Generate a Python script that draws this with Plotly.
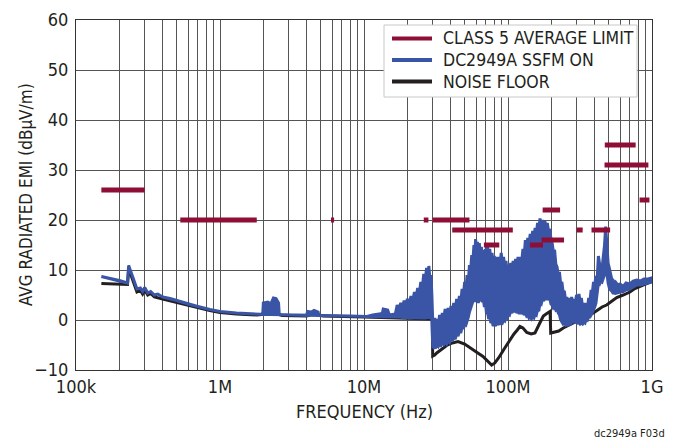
import plotly.graph_objects as go

# ---------------- data ----------------
# CISPR 25 Class 5 average limit bands (MHz) and levels (dBuV/m)
limit_start_mhz = [0.15, 0.53, 5.9, 26, 30, 41, 68, 142, 171, 174, 300, 380, 468, 470, 820]
limit_stop_mhz = [0.30, 1.8, 6.2, 28, 54, 108, 87, 175, 245, 230, 330, 512, 944, 770, 960]
limit_level = [26, 20, 20, 20, 20, 18, 15, 15, 16, 22, 18, 18, 31, 35, 24]

# DC2949A SSFM ON: frequency (MHz), upper and lower edge of the trace (dBuV/m)
ssfm_mhz = [
    0.15, 0.20, 0.228, 0.232, 0.25, 0.265, 0.28, 0.29, 0.30, 0.315, 0.33, 0.35, 0.37,
    0.40, 0.45, 0.50, 0.60, 0.70, 0.85, 1.0, 1.3, 1.7, 1.98,
    2.0, 2.15, 2.25, 2.35, 2.45, 2.55, 2.58, 3.0, 4.0, 4.05,
    4.3, 4.5, 4.8, 4.85, 6.0, 8.0, 10.5, 11.5, 13.4, 13.6,
    14.6, 15.0, 16.5,
    17.0, 17.5, 18.0, 18.5, 19.0, 19.5, 20.0, 20.6, 21.2, 21.8, 22.4, 23.0, 23.6,
    24.2, 24.8, 25.4, 26.0, 26.6, 27.2, 27.8, 28.2, 28.7, 29.2, 29.6, 29.9,
    30.0, 30.5, 31.0, 31.6, 32.2, 32.8, 33.5, 34.2, 35.0, 35.8, 36.6, 37.5,
    38.4, 39.3, 40.2, 41.1, 42.0, 43.0, 44.0, 45.0, 46.0, 47.0, 48.0, 49.0,
    50.0, 51.0, 52.0, 53.0, 54.0, 55.0,
    56.0, 57.0, 58.0, 58.8, 59.6, 60.4, 61.3, 62.2, 63.2, 64.2, 65.3, 66.4,
    67.5, 68.6, 69.8, 71.0, 72.2, 73.4, 74.7, 76.0, 77.4, 78.8, 80.2, 81.7,
    83.2, 84.8, 86.4, 88.0, 89.7, 91.4, 93.2, 95.0, 96.8, 98.6, 100.5,
    102.5, 104.5, 106.6, 108.7, 110.8, 113.0, 115.2, 117.5, 119.8, 122.2, 124.6, 127.0,
    129.5, 132.0, 134.6, 137.2, 139.9, 142.7, 145.5, 148.4, 151.3, 154.3, 157.3, 160.4,
    163.6, 166.8, 170.1, 173.4, 176.8, 180.3, 183.8, 187.4, 191.1, 194.9, 198.7,
    202.6, 206.6, 210.6, 214.8, 219.0, 223.3, 227.7, 232.2, 236.7, 241.4, 246.1, 251.0,
    255.9, 260.9, 266.1, 271.3, 276.6, 282.1, 287.6, 293.3, 299.0, 304.9, 310.9, 317.0,
    323.2, 329.6, 336.0, 342.7, 349.4, 356.3, 363.3, 370.4, 377.7, 385.1, 392.6,
    400.3, 408.2, 416.2, 424.4, 432.7, 441.2, 449.8, 458.6, 467.6, 476.8, 486.2, 495.7,
    505.4, 515.3, 525.4, 535.7, 546.2, 556.9, 578.0, 600.0, 631.0, 660.0, 700.0, 740.0,
    783.0, 830.0, 880.0, 940.0, 995.0]
ssfm_hi = [
    8.7, 7.9, 7.4, 10.9, 8.3, 6.2, 6.4, 5.7, 6.5, 5.4, 5.7, 5.0, 5.2,
    4.6, 4.3, 3.9, 3.2, 2.7, 2.1, 1.7, 1.4, 1.2, 1.1,
    3.4, 3.6, 3.2, 4.4, 4.3, 3.4, 1.1, 1.0, 0.9, 1.7,
    1.6, 1.9, 1.6, 0.9, 0.9, 0.8, 0.7, 1.0, 1.3, 2.2,
    2.0, 1.0, 1.2,
    3.0, 2.2, 3.4, 2.6, 3.9, 3.0, 4.2, 3.3, 4.8, 3.8, 5.6, 4.6, 6.4,
    5.3, 7.6, 6.4, 9.2, 7.8, 10.4, 8.6, 10.8, 8.2, 9.0, 5.0, 2.0,
    0.0, -1.2, 0.4, -0.8, 0.2, -1.0, 1.0, -0.2, 1.4, 0.2, 2.2, 0.8,
    2.4, 1.0, 2.8, 1.4, 3.4, 2.0, 4.2, 2.8, 4.8, 3.6, 6.2, 4.8,
    7.6, 6.0, 9.0, 7.6, 11.0, 9.8,
    13.0, 11.6, 15.0, 13.2, 16.2, 14.0, 15.6, 13.4, 15.4, 13.0, 14.6, 12.6,
    14.0, 12.4, 14.2, 12.4, 14.8, 12.2, 14.2, 11.8, 13.4, 11.4, 12.8, 11.2,
    12.6, 10.8, 12.6, 11.0, 13.4, 11.2, 12.6, 10.4, 11.8, 9.6, 11.0,
    10.0, 11.4, 10.2, 11.8, 10.6, 12.2, 11.0, 12.6, 11.4, 12.6, 11.8, 14.2,
    12.8, 16.0, 14.6, 16.4, 15.2, 17.2, 16.0, 17.8, 16.4, 18.4, 17.0, 19.4,
    18.0, 20.3, 18.6, 20.0, 18.8, 19.8, 18.4, 19.4, 17.8, 18.2, 16.2,
    15.4, 13.6, 14.0, 11.2, 10.6, 9.0, 9.6, 7.2, 7.6, 5.6, 5.8, 4.0,
    4.6, 3.2, 4.4, 3.0, 4.6, 3.4, 4.2, 3.2, 5.0, 3.8, 5.2, 3.6,
    4.4, 2.6, 3.4, 1.8, 3.4, 2.2, 4.4, 3.6, 6.0, 5.4, 7.6,
    7.0, 8.8, 8.2, 12.8, 11.2, 10.8, 10.2, 12.6, 14.8, 18.7, 15.2, 11.4,
    10.4, 9.0, 8.2, 8.0, 7.4, 7.6, 7.0, 7.2, 6.7, 7.4, 7.2, 7.8,
    8.0, 7.8, 8.2, 8.2, 8.4]
ssfm_lo = [
    8.7, 7.9, 7.4, 10.9, 8.3, 6.2, 6.4, 5.7, 6.5, 5.4, 5.7, 5.0, 5.2,
    4.6, 4.3, 3.9, 3.2, 2.7, 2.1, 1.7, 1.4, 1.2, 1.1,
    1.1, 1.1, 1.1, 1.1, 1.1, 1.1, 1.1, 1.0, 0.9, 0.9,
    0.9, 0.9, 0.9, 0.9, 0.9, 0.8, 0.7, 0.7, 0.7, 0.7,
    0.7, 0.7, 0.6,
    0.6, 0.6, 0.6, 0.5, 0.5, 0.5, 0.5, 0.5, 0.5, 0.4, 0.4, 0.4, 0.4,
    0.4, 0.4, 0.4, 0.4, 0.4, 0.4, 0.5, 0.5, 0.5, 0.4, 0.3, 0.2,
    -5.3, -5.5, -5.2, -5.4, -5.0, -5.3, -4.8, -5.1, -4.6, -4.9, -4.4, -4.8,
    -4.2, -4.5, -3.8, -4.2, -3.4, -3.8, -2.8, -3.2, -2.2, -2.6, -1.4, -1.8,
    -0.8, -1.0, 0.0, 0.6, 1.6, 2.4,
    3.0, 3.8, 4.4, 3.6, 4.8, 4.0, 4.6, 3.4, 4.4, 3.8, 4.4, 3.6,
    4.0, 2.6, 3.2, 1.2, 1.6, 0.2, 0.6, -0.6, -0.2, -1.2, -0.8, -1.2,
    -0.6, -1.0, -0.4, -0.9, -0.4, -0.6, 0.0, -0.2, 0.6, 0.4, 1.2,
    1.0, 1.8, 1.4, 2.2, 1.6, 2.0, 1.4, 1.8, 1.2, 1.8, 1.2, 1.6,
    1.0, 1.4, 0.8, 1.0, 0.4, 0.6, 0.2, 0.6, 0.4, 1.2, 1.0, 2.0,
    1.8, 3.4, 3.2, 4.2, 3.8, 4.6, 4.0, 4.8, 4.0, 4.4, 3.2,
    3.0, 2.4, 2.6, 2.0, 2.2, 1.4, 1.0, 0.0, -0.4, -0.8, -0.6, -1.0,
    -0.8, -1.2, -0.6, -1.0, -0.2, -0.6, 0.0, -0.4, -0.2, -0.8, -0.4, -0.8,
    -0.6, -0.8, -0.4, -0.6, 0.2, 0.0, 0.6, 0.6, 1.0, 1.4, 2.0,
    2.6, 3.4, 4.6, 7.4, 7.2, 7.8, 7.6, 8.2, 9.0, 10.6, 9.4, 7.4,
    6.4, 6.0, 5.8, 5.4, 5.4, 5.3, 5.4, 5.6, 5.7, 6.0, 6.2, 6.6,
    7.0, 7.0, 7.3, 7.4, 7.6]

# Noise floor: frequency (MHz), level (dBuV/m)
noise_mhz = [0.15, 0.228, 0.232, 0.25, 0.265, 0.28, 0.29, 0.30, 0.315, 0.33, 0.35, 0.40, 0.50,
             0.60, 0.70, 0.85, 1.0, 1.3, 1.8, 2.1, 2.5, 2.7, 4.0, 4.3, 4.8, 5.2, 10.0, 15.0,
             20.0, 29.8, 30.0, 31.0, 32.0, 34.0, 37.5, 41.0, 45.0, 50.0, 55.0, 61.0, 67.0,
             72.0, 77.0, 81.0, 86.0, 94.0, 103.0, 110.0, 116.0, 121.0, 127.0, 135.0, 145.0,
             154.0, 165.0, 176.0, 186.0, 196.0, 198.0, 210.0, 225.0, 242.0, 270.0, 300.0,
             330.0, 360.0, 391.0, 420.0, 450.0, 484.0, 520.0, 569.0, 630.0, 703.0, 760.0,
             826.0, 900.0, 995.0]
noise_db = [7.3, 7.1, 10.3, 7.8, 5.6, 5.9, 5.2, 6.0, 5.0, 5.3, 4.6, 4.2, 3.5,
            2.9, 2.4, 1.9, 1.5, 1.2, 1.0, 1.2, 1.2, 0.9, 0.8, 1.1, 1.0, 0.8, 0.6, 0.5,
            0.4, 0.2, -7.2, -7.0, -6.6, -6.0, -5.1, -4.6, -4.3, -4.8, -5.7, -6.5, -7.3,
            -8.2, -9.0, -8.6, -7.6, -5.8, -4.0, -2.8, -2.0, -1.3, -1.6, -2.5, -2.8,
            -2.6, -0.8, 0.8, 1.3, 1.7, -2.6, -2.4, -2.2, -1.6, -0.9, -0.2,
            0.4, 0.8, 1.4, 2.0, 2.6, 3.0, 3.6, 4.5, 5.0, 5.6, 6.3,
            6.7, 7.2, 7.7]

series_names = ["CLASS 5 AVERAGE LIMIT", "DC2949A SSFM ON", "NOISE FLOOR"]
y_ticks = [-10, 0, 10, 20, 30, 40, 50, 60]
y_tick_labels = ["\u221210", "0", "10", "20", "30", "40", "50", "60"]
x_decades = [1e5, 1e6, 1e7, 1e8, 1e9]
x_decade_labels = ["100k", "1M", "10M", "100M", "1G"]
x_title = "FREQUENCY (Hz)"
y_title = "AVG RADIATED EMI (dB\u03bcV/m)"
footer = "dc2949a F03d"

# ---------------- styling ----------------
RED = "#8E0E35"
BLUE = "#3A55A6"
BLACK = "#231F20"
GRID = "#555555"
FONT = "DejaVu Sans Condensed, Liberation Sans Narrow, Roboto, sans-serif"

fig = go.Figure()

# noise floor
fig.add_trace(go.Scatter(
    x=[m * 1e6 for m in noise_mhz], y=noise_db, mode="lines", name=series_names[2],
    line=dict(color=BLACK, width=3), showlegend=False, hoverinfo="skip"))

# SSFM band (polygon between upper and lower edge)
xs = [m * 1e6 for m in ssfm_mhz]
fig.add_trace(go.Scatter(
    x=xs + xs[::-1], y=ssfm_hi + ssfm_lo[::-1], mode="lines", fill="toself",
    name=series_names[1], fillcolor=BLUE, line=dict(color=BLUE, width=3),
    showlegend=False, hoverinfo="skip"))

# limit segments
lx, ly = [], []
for a, b, lv in zip(limit_start_mhz, limit_stop_mhz, limit_level):
    lx += [a * 1e6, b * 1e6, None]
    ly += [lv, lv, None]
fig.add_trace(go.Scatter(x=lx, y=ly, mode="lines", name=series_names[0],
                         line=dict(color=RED, width=5), showlegend=False, hoverinfo="skip"))

# x grid at every 1..9 x decade, labels only on decades
grid_vals, grid_text = [], []
for d, lab in zip(x_decades[:-1], x_decade_labels[:-1]):
    for k in range(1, 10):
        grid_vals.append(d * k)
        grid_text.append(lab if k == 1 else "")
grid_vals.append(x_decades[-1])
grid_text.append(x_decade_labels[-1])

# plot-area pixel geometry -> paper coords helper (legend box, titles)
L, R, T, B = 76, 26, 20, 73
PW, PH = 678 - L - R, 443 - T - B


def px(xp):
    return (xp - L) / PW


def py(yp):
    return (443 - B - yp) / PH


shapes = [dict(type="rect", xref="paper", yref="paper", x0=px(384), x1=px(637),
               y0=py(97), y1=py(25), fillcolor="white", line=dict(color="#C8C8C8", width=1),
               layer="above")]
annotations = []
row_y = [38.5, 60, 81.5]
for name, col, ry in zip(series_names, [RED, BLUE, BLACK], row_y):
    shapes.append(dict(type="line", xref="paper", yref="paper", x0=px(392), x1=px(432),
                       y0=py(ry), y1=py(ry), line=dict(color=col, width=4), layer="above"))
    annotations.append(dict(text=name, xref="paper", yref="paper", x=px(441), y=py(ry),
                            xanchor="left", yanchor="middle", showarrow=False,
                            font=dict(family=FONT, size=17.5, color=BLACK)))
annotations.append(dict(text=x_title, xref="paper", yref="paper", x=px(364), y=py(411),
                        xanchor="center", yanchor="middle", showarrow=False,
                        font=dict(family=FONT, size=18, color=BLACK)))
annotations.append(dict(text=y_title, xref="paper", yref="paper", x=px(26), y=py(195),
                        xanchor="center", yanchor="middle", showarrow=False, textangle=-90,
                        font=dict(family=FONT, size=17, color=BLACK)))
annotations.append(dict(text=footer, xref="paper", yref="paper", x=px(667), y=py(433),
                        xanchor="right", yanchor="middle", showarrow=False,
                        font=dict(family=FONT, size=11, color=BLACK)))

fig.update_layout(
    width=678, height=443,
    margin=dict(l=L, r=R, t=T, b=B),
    paper_bgcolor="white", plot_bgcolor="white",
    font=dict(family=FONT, size=18, color=BLACK),
    showlegend=False,
    hovermode=False,
    xaxis=dict(type="log", range=[5, 9], tickvals=grid_vals, ticktext=grid_text,
               showgrid=True, gridcolor=GRID, gridwidth=1, showline=True, linecolor="#333333",
               linewidth=1, mirror=True, ticks="", zeroline=False, automargin=False,
               tickfont=dict(family=FONT, size=18)),
    yaxis=dict(range=[-10, 60], tickvals=y_ticks, ticktext=y_tick_labels,
               showgrid=True, gridcolor=GRID, gridwidth=1, showline=True, linecolor="#333333",
               linewidth=1, mirror=True, ticks="", zeroline=False, ticklabelstandoff=3,
               automargin=False, tickfont=dict(family=FONT, size=18)),
    shapes=shapes,
    annotations=annotations,
)

fig.write_html("out.html", config={"displayModeBar": False},
               post_script="document.body.style.margin='0';")
